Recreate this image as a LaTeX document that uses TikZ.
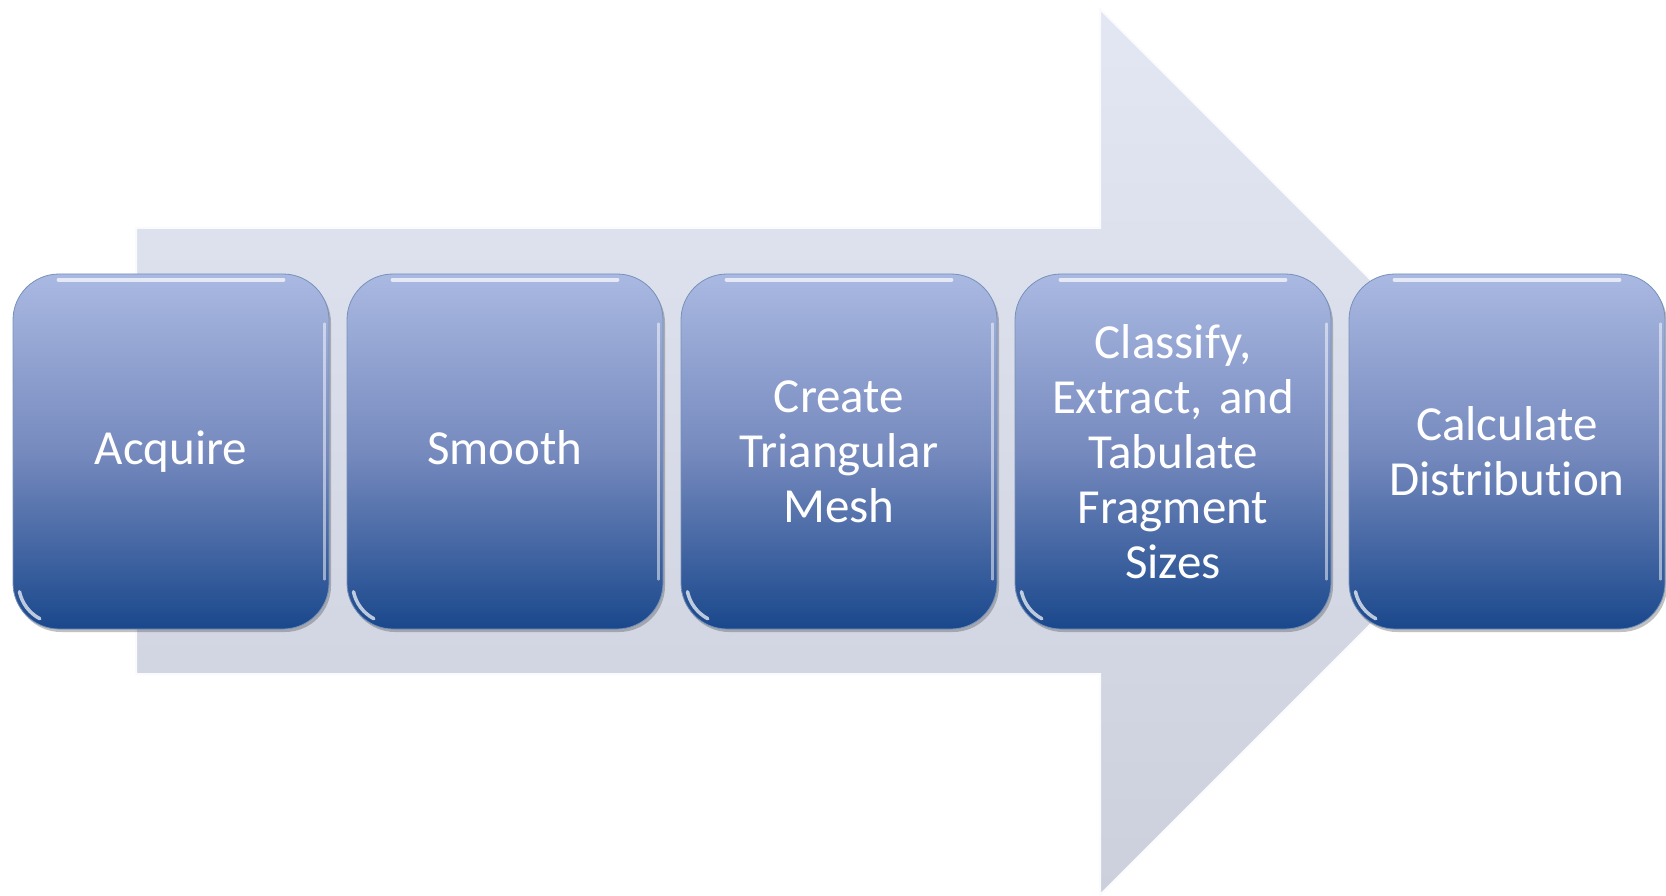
\documentclass[tikz,border=0pt]{standalone}
\usepackage{fontspec}
\setmainfont{Carlito}[Ligatures=NoCommon]
\usetikzlibrary{calc,shadows}
\definecolor{arrowtop}{RGB}{227,231,243}
\definecolor{arrowbot}{RGB}{203,208,220}
\definecolor{boxtop}{RGB}{170,185,226}
\definecolor{boxmid}{RGB}{118,138,190}
\definecolor{boxbot}{RGB}{26,72,140}
\tikzset{
  stepbox/.style={rounded corners=46pt, minimum width=316pt, minimum height=355pt,
    text width=300pt, align=center, text=white, inner sep=0pt,
    top color=boxtop, bottom color=boxbot, middle color=boxmid,
    draw=boxbot!60!white, line width=0.8pt,
    drop shadow={shadow xshift=2pt, shadow yshift=-3pt, opacity=0.35, fill=black!70},
    font=\fontsize{49}{55}\selectfont},
  gloss/.style={white, line width=4pt, line cap=round, opacity=0.7}
}
\begin{document}
\begin{tikzpicture}[x=1pt,y=-1pt]
\useasboundingbox (0,0) rectangle (1666,896);
% big arrow
\shade[top color=arrowtop, bottom color=arrowbot, draw=white!85!arrowtop, line width=2pt, line join=miter]
  (136,228) -- (1100,228) -- (1100,9) -- (1543,452) -- (1100,895) -- (1100,674) -- (136,674) -- cycle;
% step boxes
\node[stepbox] (acq) at (171,451.5) {Acquire};
\node[stepbox] (smo) at (505,451.5) {Smooth\vphantom{Acquire}};
\node[stepbox] (mesh) at (839,451.5) {Create\\Triangular\\Mesh};
\node[stepbox] (cls) at (1173,451.5) {Classify,\\Extract, and\\Tabulate\\Fragment\\Sizes};
\node[stepbox] (calc) at (1507,451.5) {Calculate\\Distribution};
% glossy highlights
\foreach \n in {acq,smo,mesh,cls,calc}{
  \draw[gloss] ($(\n.north west)+(46,6)$) -- ($(\n.north east)+(-46,6)$);
  \draw[gloss, line width=3.5pt] ($(\n.south west)+(46,-46)+(168:40)$) arc[start angle=168, end angle=118, radius=40];
  \draw[white, opacity=0.5, line width=2.5pt, line cap=round] ($(\n.north east)+(-5,50)$) -- ($(\n.south east)+(-5,-50)$);
}
\end{tikzpicture}
\end{document}
